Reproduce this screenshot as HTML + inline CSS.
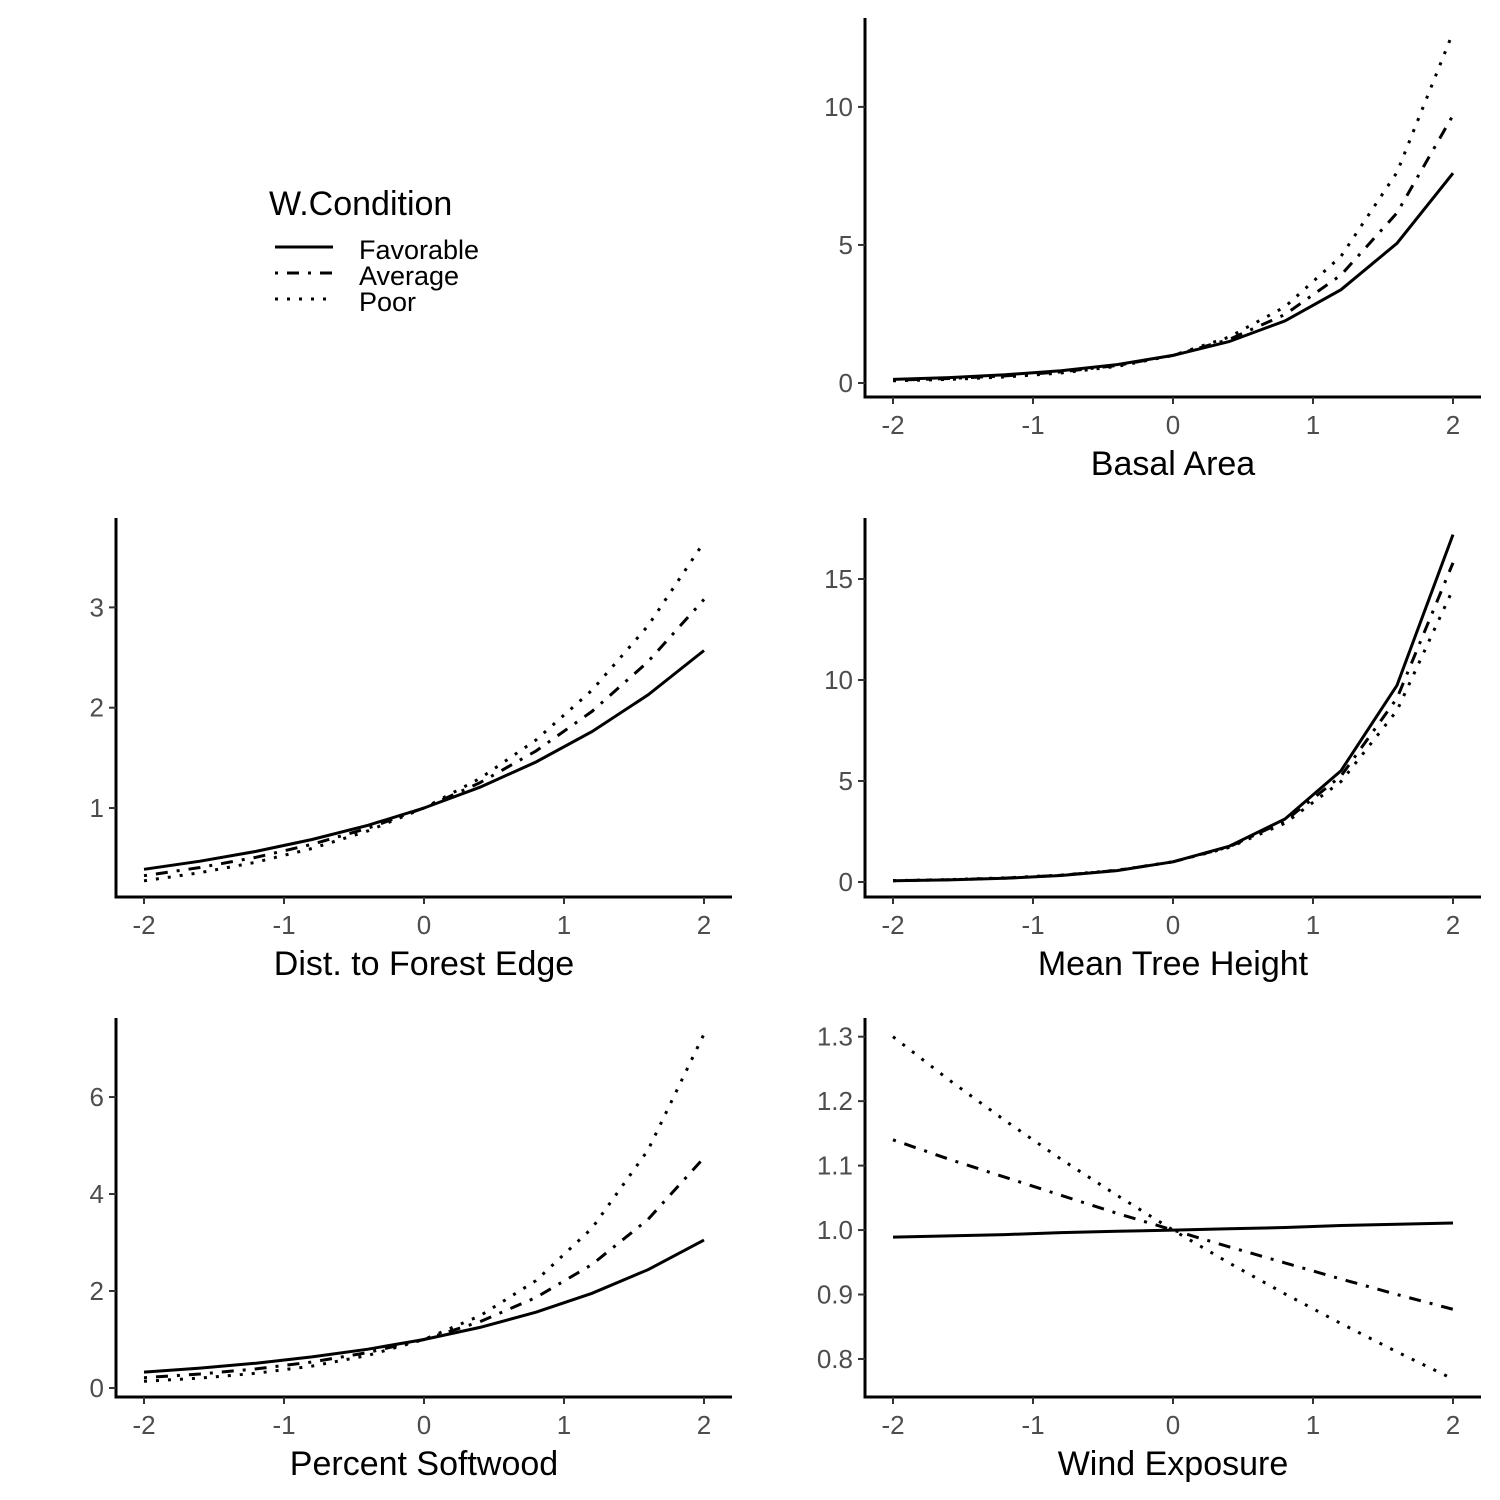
<!DOCTYPE html>
<html><head><meta charset="utf-8"><style>body{margin:0;background:#fff}svg{display:block}text{font-family:"Liberation Sans",Arial,sans-serif}</style></head>
<body>
<svg id="chart" width="1500" height="1500" viewBox="0 0 1500 1500" xmlns="http://www.w3.org/2000/svg">
<rect width="1500" height="1500" fill="#fff"/>
<g id="legend">
<text x="269" y="215" font-size="34">W.Condition</text>
<line x1="275" y1="247" x2="333" y2="247" stroke="#000" stroke-width="3"/>
<line x1="275" y1="273" x2="333" y2="273" stroke="#000" stroke-width="3" stroke-dasharray="3 9 12 9"/>
<line x1="275" y1="299" x2="333" y2="299" stroke="#000" stroke-width="3" stroke-dasharray="3 9"/>
<text x="359" y="259" font-size="27">Favorable</text>
<text x="359" y="285" font-size="27">Average</text>
<text x="359" y="311" font-size="27">Poor</text>
</g>
</svg>
<script>
const xVals=[-2,-1.6,-1.2,-0.8,-0.4,0,0.4,0.8,1.2,1.6,2];
const xTicks=[-2,-1,0,1,2];
const xTickLabels=["-2","-1","0","1","2"];
const seriesNames=["favorable","average","poor"];
const basalFav=[0.132,0.197,0.296,0.444,0.667,1,1.50,2.25,3.38,5.06,7.60];
const basalAvg=[0.103,0.162,0.256,0.403,0.635,1,1.575,2.48,3.91,6.16,9.70];
const basalPoor=[0.079,0.131,0.218,0.362,0.602,1,1.662,2.76,4.59,7.63,12.7];
const basalTicks=[0,5,10];
const basalTickLabels=["0","5","10"];
const distFav=[0.389,0.470,0.568,0.686,0.828,1,1.208,1.459,1.762,2.128,2.57];
const distAvg=[0.325,0.407,0.509,0.638,0.799,1,1.252,1.568,1.963,2.459,3.08];
const distPoor=[0.274,0.355,0.460,0.596,0.772,1,1.295,1.678,2.174,2.816,3.65];
const distTicks=[1,2,3];
const distTickLabels=["1","2","3"];
const heightFav=[0.058,0.103,0.181,0.320,0.566,1,1.767,3.12,5.51,9.74,17.2];
const heightAvg=[0.063,0.110,0.191,0.332,0.576,1,1.737,3.02,5.24,9.10,15.8];
const heightPoor=[0.069,0.118,0.201,0.343,0.586,1,1.707,2.91,4.97,8.49,14.5];
const heightTicks=[0,5,10,15];
const heightTickLabels=["0","5","10","15"];
const softFav=[0.328,0.410,0.512,0.640,0.800,1,1.250,1.562,1.952,2.440,3.05];
const softAvg=[0.211,0.288,0.393,0.536,0.732,1,1.366,1.865,2.547,3.477,4.75];
const softPoor=[0.137,0.204,0.303,0.452,0.672,1,1.488,2.215,3.296,4.905,7.3];
const softTicks=[0,2,4,6];
const softTickLabels=["0","2","4","6"];
const windFav=[0.989,0.991,0.993,0.996,0.998,1,1.002,1.004,1.007,1.009,1.011];
const windAvg=[1.140,1.110,1.082,1.054,1.026,1,0.974,0.949,0.924,0.900,0.877];
const windPoor=[1.300,1.233,1.170,1.110,1.054,1,0.949,0.901,0.855,0.811,0.769];
const windTicks=[0.8,0.9,1.0,1.1,1.2,1.3];
const windTickLabels=["0.8","0.9","1.0","1.1","1.2","1.3"];

const NS="http://www.w3.org/2000/svg";
const svg=document.getElementById('chart');
const dashes=["none","3 9 12 9","3 9"];
function mk(tag,attrs,parent){const e=document.createElementNS(NS,tag);for(const k in attrs)e.setAttribute(k,attrs[k]);parent.appendChild(e);return e;}
function panel(key,title,left,top,ymin,ymax,series,yt,ytl){
  const W=616,H=379;
  const g=mk('g',{},svg);
  
  
  const sx=x=>left+(x+2.2)/4.4*W;
  const sy=y=>top+H-(y-ymin)/(ymax-ymin)*H;
  const yax=mk('line',{x1:left,y1:top,x2:left,y2:top+H,stroke:'#000','stroke-width':3},g);
  
  
  const xax=mk('line',{x1:left-1.5,y1:top+H,x2:left+W,y2:top+H,stroke:'#000','stroke-width':3},g);
  
  
  xTicks.forEach((t,i)=>{
    const tk=mk('line',{x1:sx(t),y1:top+H,x2:sx(t),y2:top+H+7,stroke:'#333','stroke-width':2},g);
    
    
    const tl=mk('text',{x:sx(t),y:top+H+37,'font-size':26,fill:'#4d4d4d','text-anchor':'middle'},g);
    tl.textContent=xTickLabels[i];
    
    
  });
  yt.forEach((t,i)=>{
    const tk=mk('line',{x1:left-7,y1:sy(t),x2:left,y2:sy(t),stroke:'#333','stroke-width':2},g);
    
    
    const tl=mk('text',{x:left-12,y:sy(t)+9,'font-size':26,fill:'#4d4d4d','text-anchor':'end'},g);
    tl.textContent=ytl[i];
    
    
  });
  const at=mk('text',{x:left+W/2,y:top+H+78,'font-size':34,fill:'#000','text-anchor':'middle'},g);
  at.textContent=title;
  
  
  series.forEach((s,i)=>{
    const d=s.map((v,j)=>(j?'L':'M')+sx(xVals[j]).toFixed(1)+' '+sy(v).toFixed(1)).join(' ');
    const p=mk('path',{d:d,fill:'none',stroke:'#000','stroke-width':3,'stroke-dasharray':dashes[i]},g);
    
    
  });
}
panel('basal-area','Basal Area',865,18,-0.507,13.22,[basalFav,basalAvg,basalPoor],basalTicks,basalTickLabels);
panel('dist-forest-edge','Dist. to Forest Edge',116,518,0.113,3.891,[distFav,distAvg,distPoor],distTicks,distTickLabels);
panel('mean-tree-height','Mean Tree Height',865,518,-0.743,18.02,[heightFav,heightAvg,heightPoor],heightTicks,heightTickLabels);
panel('percent-softwood','Percent Softwood',116,1018,-0.186,7.63,[softFav,softAvg,softPoor],softTicks,softTickLabels);
panel('wind-exposure','Wind Exposure',865,1018,0.741,1.329,[windFav,windAvg,windPoor],windTicks,windTickLabels);
</script>
</body></html>
